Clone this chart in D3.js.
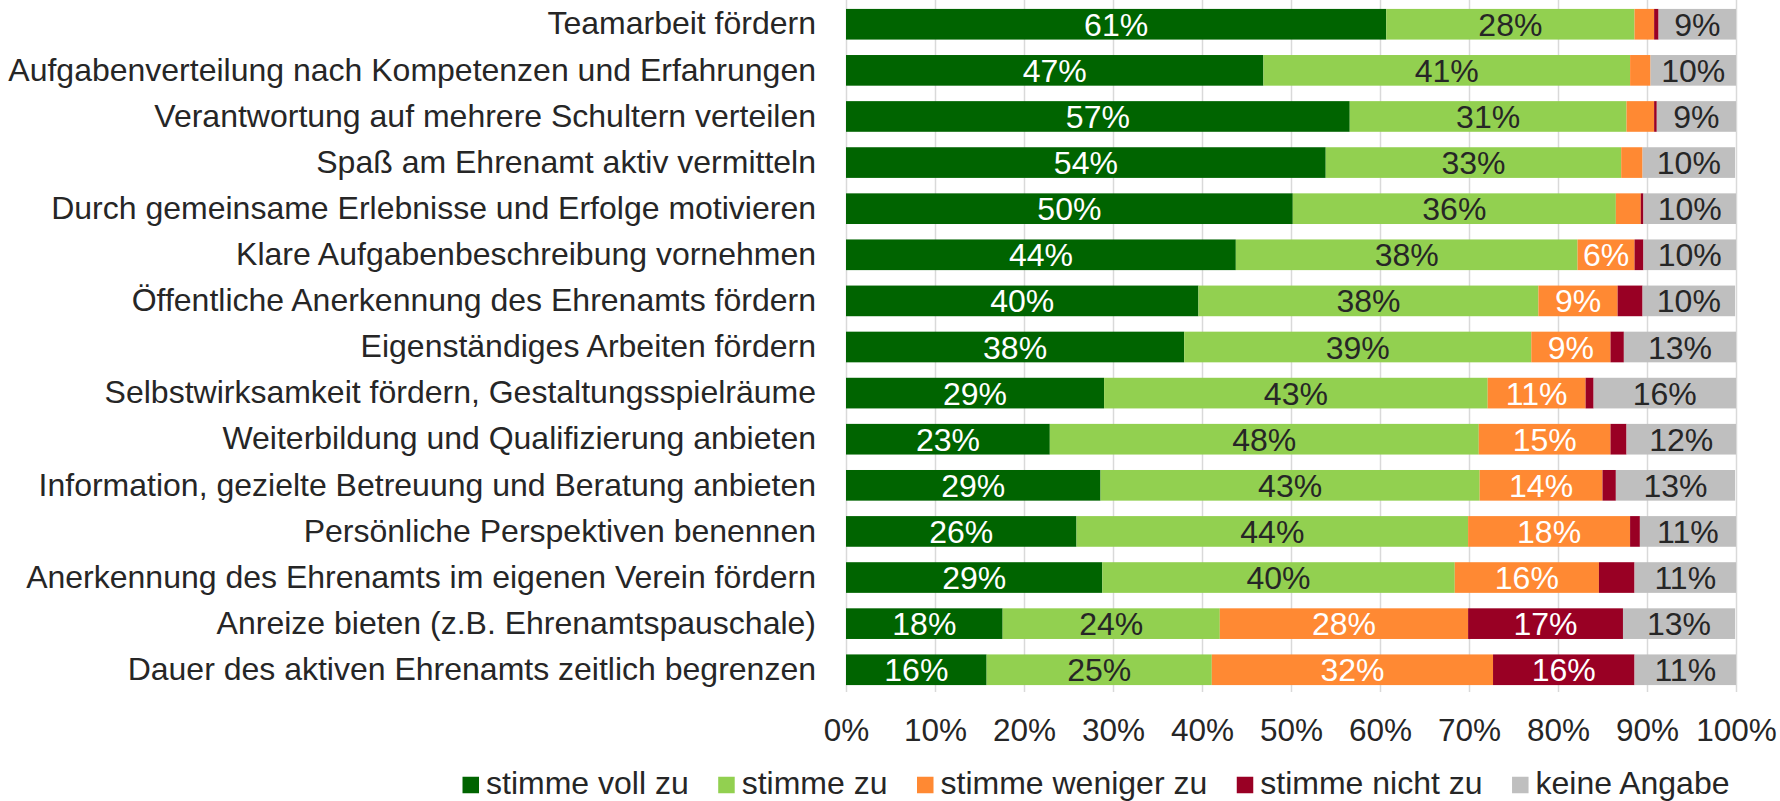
<!DOCTYPE html>
<html><head><meta charset="utf-8">
<script src="https://cdn.jsdelivr.net/npm/d3@7"></script>
<style>
html,body{margin:0;padding:0;background:#fff;}
svg{display:block;font-family:"Liberation Sans",Arial,sans-serif;}
</style></head>
<body>
<svg id="chart" width="1780" height="801"></svg>
<script>
const categories = [
  "Teamarbeit fördern",
  "Aufgabenverteilung nach Kompetenzen und Erfahrungen",
  "Verantwortung auf mehrere Schultern verteilen",
  "Spaß am Ehrenamt aktiv vermitteln",
  "Durch gemeinsame Erlebnisse und Erfolge motivieren",
  "Klare Aufgabenbeschreibung vornehmen",
  "Öffentliche Anerkennung des Ehrenamts fördern",
  "Eigenständiges Arbeiten fördern",
  "Selbstwirksamkeit fördern, Gestaltungsspielräume",
  "Weiterbildung und Qualifizierung anbieten",
  "Information, gezielte Betreuung und Beratung anbieten",
  "Persönliche Perspektiven benennen",
  "Anerkennung des Ehrenamts im eigenen Verein fördern",
  "Anreize bieten (z.B. Ehrenamtspauschale)",
  "Dauer des aktiven Ehrenamts zeitlich begrenzen"
];
const seriesNames = ["stimme voll zu", "stimme zu", "stimme weniger zu", "stimme nicht zu", "keine Angabe"];
const stimmeVollZu     = [60.7, 46.9, 56.6, 53.9, 50.2, 43.8, 39.6, 38.0, 29.0, 22.9, 28.6, 25.9, 28.8, 17.6, 15.8];
const stimmeZu         = [27.9, 41.2, 31.1, 33.2, 36.3, 38.4, 38.2, 39.0, 43.1, 48.2, 42.6, 44.0, 39.6, 24.4, 25.3];
const stimmeWenigerZu  = [ 2.2,  2.3,  3.1,  2.4,  2.8,  6.4,  8.9,  8.9, 11.0, 14.8, 13.8, 18.2, 16.2, 27.9, 31.6];
const stimmeNichtZu    = [ 0.5,  0.0,  0.3,  0.0,  0.3,  1.0,  2.8,  1.5,  0.9,  1.8,  1.5,  1.1,  4.0, 17.4, 15.9];
const keineAngabe      = [ 8.7,  9.6,  8.9, 10.4, 10.4, 10.4, 10.4, 12.6, 16.0, 12.3, 13.4, 10.8, 11.4, 12.6, 11.4];
const tickValues = [0, 10, 20, 30, 40, 50, 60, 70, 80, 90, 100];
const colors = ["#006400", "#92d050", "#ff8933", "#990024", "#bfbfbf"];
const labelColors = ["#ffffff", "#262626", "#ffffff", "#ffffff", "#262626"];

const seriesValues = [stimmeVollZu, stimmeZu, stimmeWenigerZu, stimmeNichtZu, keineAngabe];
const rows = categories.map((c, i) => {
  const r = {cat: c};
  seriesNames.forEach((s, k) => r[s] = seriesValues[k][i]);
  return r;
});

const FS = 31.5;
const FSC = 32;
const svg = d3.select("#chart");
const x = d3.scaleLinear().domain([0, 100]).range([846, 1736]);
const y = d3.scaleBand().domain(categories).range([2, 692]).paddingInner(0.335).paddingOuter(0.15);

// gridlines
const grid = svg.append("g").attr("class", "grid")
  .call(d3.axisBottom(x).tickValues(tickValues).tickSize(692).tickFormat(""));
grid.select(".domain").remove();
grid.selectAll("line").attr("stroke", "#d9d9d9").attr("stroke-width", 1.5);

// x axis labels
const xa = svg.append("g").attr("transform", "translate(0,692)")
  .call(d3.axisBottom(x).tickValues(tickValues).tickSize(0).tickPadding(27).tickFormat(d => d + "%"));
xa.select(".domain").remove();
xa.selectAll("text").attr("font-size", FS).attr("fill", "#262626").attr("font-family", "Liberation Sans, Arial, sans-serif");

// stacked bars
const stack = d3.stack().keys(seriesNames)(rows);
const layers = svg.append("g").selectAll("g").data(stack).join("g")
  .attr("fill", (d, i) => colors[i]);
layers.selectAll("rect").data(d => d).join("rect")
  .attr("x", d => x(d[0]))
  .attr("width", d => Math.max(0, x(d[1]) - x(d[0])))
  .attr("y", d => y(d.data.cat))
  .attr("height", y.bandwidth());

// data labels
const lab = svg.append("g");
stack.forEach((layer, k) => {
  lab.selectAll(null).data(layer.filter(d => d[1] - d[0] >= 5)).join("text")
    .attr("x", d => (x(d[0]) + x(d[1])) / 2)
    .attr("y", d => y(d.data.cat) + y.bandwidth() / 2)
    .attr("dy", "0.36em")
    .attr("text-anchor", "middle")
    .attr("font-size", FSC)
    .attr("fill", labelColors[k])
    .text(d => Math.round(d[1] - d[0]) + "%");
});

// category labels
const ya = svg.append("g").attr("transform", "translate(846,0)")
  .call(d3.axisLeft(y).tickSize(0).tickPadding(30));
ya.select(".domain").remove();
ya.selectAll("text").attr("font-size", FSC).attr("fill", "#262626").attr("font-family", "Liberation Sans, Arial, sans-serif");

// legend
const leg = svg.append("g").attr("font-size", FSC).attr("fill", "#262626");
const items = leg.selectAll("g").data(seriesNames).join("g");
items.append("rect").attr("width", 16.5).attr("height", 16.5).attr("y", -8.25).attr("fill", (d, i) => colors[i]);
items.append("text").attr("x", 23.5).attr("y", 9).text(d => d);
const widths = [];
items.each(function(d, i) {
  widths.push(23.5 + this.querySelector("text").getComputedTextLength());
});
const gap = 29.5;
const total = d3.sum(widths) + gap * (widths.length - 1);
let start = 1096 - total / 2;
items.attr("transform", (d, i) => {
  const t = `translate(${start},785)`;
  start += widths[i] + gap;
  return t;
});
</script>
</body></html>
